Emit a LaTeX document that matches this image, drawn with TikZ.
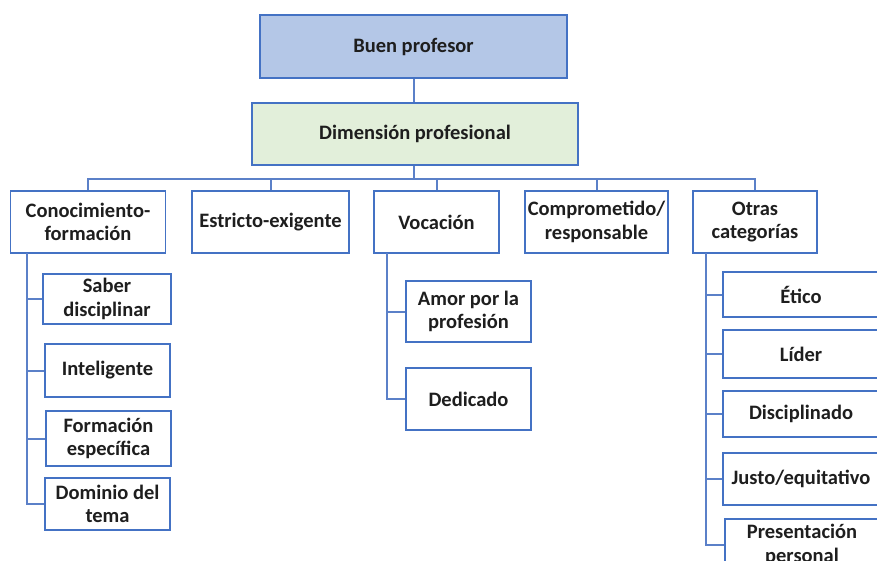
\documentclass[tikz,border=0pt]{standalone}
\usepackage{fontspec}
\setmainfont{Carlito}
\definecolor{bord}{HTML}{4472C4}
\definecolor{conn}{HTML}{5B80C8}
\definecolor{topfill}{HTML}{B4C7E7}
\definecolor{dimfill}{HTML}{E2EFDA}
\definecolor{txt}{HTML}{1E1E1E}
\tikzset{
  box/.style={draw=bord, line width=1.5pt, fill=white, text=txt, align=center,
    font=\fontsize{20.5}{23.5}\selectfont\bfseries, inner sep=0pt},
  link/.style={draw=conn, line width=2pt}
}
\begin{document}
\begin{tikzpicture}[x=1pt,y=-1pt]
\useasboundingbox (0,0) rectangle (877,560);
\clip (0,0) rectangle (877,560);
% top
\node[box, fill=topfill, minimum width=307, minimum height=63] (bp) at (413.5,46.5) {Buen profesor};
\node[box, fill=dimfill, minimum width=326, minimum height=62] (dp) at (415,134) {Dimensión profesional};
% categories
\node[box, minimum width=155, minimum height=62] (c1) at (88,222) {Conocimiento-\\formación};
\node[box, minimum width=157, minimum height=62] (c2) at (270.5,222) {Estricto-exigente};
\node[box, minimum width=125, minimum height=62] (c3) at (436.5,222) {Vocación};
\node[box, minimum width=143, minimum height=62] (c4) at (596.5,222) {Comprometido/\\responsable};
\node[box, minimum width=124, minimum height=62] (c5) at (755,222) {Otras\\categorías};
% Conocimiento children
\node[box, minimum width=128, minimum height=50] (k1) at (107,299) {Saber\\disciplinar};
\node[box, minimum width=125, minimum height=53] (k2) at (107.5,370.5) {Inteligente};
\node[box, minimum width=125, minimum height=55] (k3) at (108.5,438.5) {Formación\\específica};
\node[box, minimum width=125, minimum height=52] (k4) at (107.5,504) {Dominio del\\tema};
% Vocación children
\node[box, minimum width=125, minimum height=61] (v1) at (468.5,311.5) {Amor por la\\profesión};
\node[box, minimum width=125, minimum height=62] (v2) at (468.5,399) {Dedicado};
% Otras children
\node[box, minimum width=156, minimum height=45] (o1) at (801,294.5) {Ético};
\node[box, minimum width=156, minimum height=48] (o2) at (801,354) {Líder};
\node[box, minimum width=156, minimum height=46] (o3) at (801,414) {Disciplinado};
\node[box, minimum width=156, minimum height=52] (o4) at (801,479) {Justo/equitativo};
\node[box, minimum width=154, minimum height=52] (o5) at (802,545) {Presentación\\personal};
% connectors
\coordinate (bus) at (414,179);
\coordinate (ka) at (27,253);
\coordinate (va) at (387,253);
\coordinate (oa) at (706,253);
\draw[link] (bp.south -| bus) -- (dp.north -| bus);
\draw[link] (dp.south -| bus) -- (bus);
\foreach \c in {c1,c2,c3,c4,c5} \draw[link] (\c.north) |- (bus);
\foreach \c in {k1,k2,k3,k4} \draw[link] (ka) |- (\c.west);
\foreach \c in {v1,v2} \draw[link] (va) |- (\c.west);
\foreach \c in {o1,o2,o3,o4,o5} \draw[link] (oa) |- (\c.west);
\end{tikzpicture}
\end{document}
